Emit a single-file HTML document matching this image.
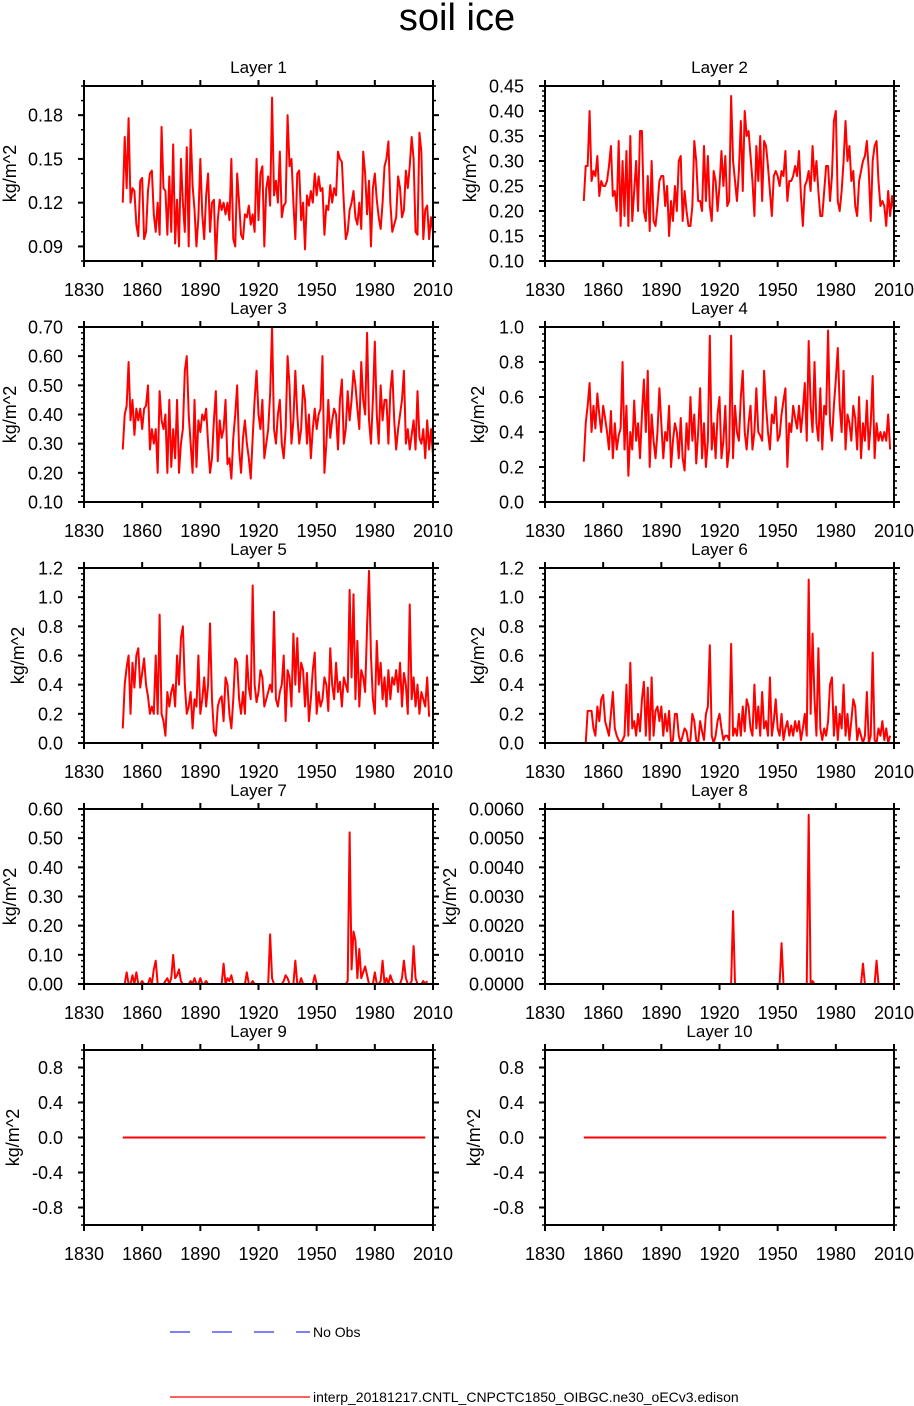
<!DOCTYPE html>
<html><head><meta charset="utf-8"><style>
html,body{margin:0;padding:0;background:#fff;}
svg{display:block;font-family:"Liberation Sans",Arial,sans-serif;}
</style></head><body>
<svg id="chart" width="914" height="1406" viewBox="0 0 914 1406" xmlns="http://www.w3.org/2000/svg">
<text x="457" y="30" font-size="38" text-anchor="middle">soil ice</text>
<g>
<line x1="170" y1="1332" x2="310" y2="1332" stroke="#0000ff" stroke-width="1" stroke-dasharray="20,22"/>
<text x="313" y="1337" font-size="14">No Obs</text>
<line x1="170" y1="1397" x2="310" y2="1397" stroke="#ff0000" stroke-width="1.2"/>
<text x="313" y="1402" font-size="14">interp_20181217.CNTL_CNPCTC1850_OIBGC.ne30_oECv3.edison</text>
</g>
</svg>
<script>
const startYear = 1850;
const xTicks = [1830,1860,1890,1920,1950,1980,2010];
const layer1 = [.120,.165,.130,.178,.120,.130,.128,.105,.097,.135,.137,.095,.100,.128,.140,.142,.112,.100,.120,.098,.172,.130,.128,.098,.138,.100,.160,.092,.122,.090,.150,.120,.100,.158,.090,.170,.132,.115,.090,.110,.150,.112,.095,.125,.140,.100,.120,.122,.080,.108,.122,.115,.120,.112,.120,.108,.150,.095,.090,.140,.120,.098,.095,.112,.110,.118,.105,.112,.100,.150,.108,.140,.145,.090,.130,.138,.118,.192,.125,.135,.120,.155,.110,.118,.120,.180,.145,.150,.120,.095,.140,.142,.108,.120,.088,.125,.118,.128,.120,.140,.125,.138,.128,.130,.098,.118,.115,.132,.120,.130,.125,.155,.150,.148,.120,.095,.100,.115,.120,.128,.110,.105,.120,.102,.155,.140,.112,.135,.090,.130,.140,.122,.110,.102,.120,.145,.150,.162,.120,.100,.105,.110,.138,.130,.110,.115,.142,.130,.145,.165,.150,.100,.098,.168,.155,.095,.115,.118,.095,.110,.100];
const layer2 = [.22,.29,.29,.40,.26,.28,.27,.31,.23,.26,.25,.25,.26,.29,.33,.23,.24,.20,.34,.17,.30,.19,.32,.17,.35,.18,.24,.30,.20,.36,.36,.20,.18,.27,.16,.30,.18,.17,.21,.26,.27,.27,.21,.25,.15,.22,.18,.25,.20,.30,.31,.18,.24,.20,.17,.17,.21,.34,.30,.22,.22,.20,.33,.22,.31,.21,.18,.28,.26,.20,.25,.32,.25,.31,.21,.22,.43,.30,.26,.22,.28,.38,.24,.40,.35,.36,.31,.26,.19,.33,.26,.35,.22,.34,.33,.29,.24,.19,.27,.28,.27,.25,.28,.27,.32,.22,.26,.26,.27,.29,.27,.32,.23,.17,.25,.26,.28,.24,.33,.26,.30,.24,.19,.19,.24,.29,.29,.22,.27,.38,.40,.22,.20,.24,.30,.38,.30,.33,.26,.28,.21,.19,.26,.28,.30,.31,.34,.28,.18,.30,.33,.34,.26,.21,.22,.21,.17,.24,.19,.23,.20];
const layer3 = [.28,.40,.43,.58,.38,.45,.33,.42,.38,.42,.35,.42,.43,.50,.28,.35,.30,.35,.20,.48,.38,.35,.40,.20,.45,.22,.35,.25,.45,.20,.30,.35,.55,.60,.40,.30,.20,.45,.22,.38,.34,.40,.38,.42,.30,.20,.25,.38,.48,.24,.38,.32,.35,.45,.23,.25,.18,.32,.40,.50,.28,.20,.32,.38,.30,.25,.18,.32,.45,.55,.40,.35,.45,.25,.30,.35,.47,.70,.35,.30,.40,.45,.30,.25,.35,.60,.50,.30,.38,.55,.40,.30,.35,.50,.45,.30,.40,.25,.35,.42,.35,.40,.42,.60,.20,.30,.45,.32,.38,.42,.40,.28,.45,.52,.30,.35,.48,.38,.45,.55,.50,.42,.35,.58,.45,.40,.68,.38,.30,.45,.65,.40,.30,.50,.38,.45,.45,.30,.48,.55,.38,.28,.35,.40,.45,.55,.30,.35,.28,.33,.38,.28,.48,.32,.30,.35,.25,.38,.28,.35,.26];
const layer4 = [.23,.45,.55,.68,.40,.55,.42,.62,.50,.40,.55,.48,.40,.30,.52,.25,.45,.30,.38,.42,.80,.30,.55,.15,.40,.30,.58,.35,.45,.25,.50,.70,.40,.75,.20,.50,.35,.25,.40,.65,.45,.25,.40,.35,.55,.20,.35,.45,.40,.25,.48,.25,.18,.45,.30,.60,.35,.50,.22,.40,.65,.25,.45,.20,.35,.95,.30,.45,.25,.50,.60,.25,.35,.55,.20,.30,.95,.25,.55,.40,.35,.60,.75,.40,.30,.45,.55,.30,.40,.65,.40,.38,.35,.75,.55,.40,.30,.50,.45,.60,.35,.38,.50,.58,.65,.20,.45,.40,.55,.48,.42,.55,.40,.52,.68,.35,.92,.55,.40,.80,.45,.35,.65,.30,.55,.50,.98,.45,.35,.55,.70,.88,.55,.40,.75,.30,.50,.45,.35,.55,.48,.30,.60,.25,.45,.35,.58,.30,.45,.72,.25,.45,.35,.40,.35,.40,.35,.50,.30];
const layer5 = [.10,.40,.52,.60,.20,.55,.38,.60,.65,.38,.48,.58,.40,.32,.20,.25,.20,.60,.20,.88,.20,.15,.05,.35,.25,.35,.40,.25,.60,.40,.72,.80,.40,.20,.25,.35,.10,.30,.25,.60,.20,.30,.45,.25,.40,.82,.30,.08,.05,.25,.30,.32,.15,.45,.40,.20,.10,.30,.58,.55,.30,.20,.35,.20,.60,.38,.30,1.08,.40,.28,.35,.50,.45,.25,.30,.35,.40,.35,.90,.30,.25,.35,.40,.60,.15,.50,.45,.25,.75,.40,.72,.35,.55,.50,.25,.48,.15,.30,.50,.62,.20,.35,.25,.30,.45,.40,.22,.65,.40,.30,.55,.35,.42,.25,.45,.40,.35,1.05,.45,1.02,.30,.70,.25,.50,.45,.35,.80,1.18,.60,.30,.20,.70,.40,.55,.30,.45,.25,.50,.30,.45,.40,.50,.35,.55,.25,.48,.40,.20,.95,.30,.45,.25,.40,.20,.35,.30,.25,.45,.18];
const layer6 = [0,0,.22,.22,.22,.10,.05,.25,.15,.30,.33,.15,.10,.05,.20,.35,.10,.05,.02,0,.02,.05,.40,.05,.55,.10,.15,.05,.20,.08,.30,.42,.05,.38,.02,.45,.05,.22,.25,.15,.25,.05,.20,.08,.22,0,.02,.20,.20,.05,0,.05,.10,.08,0,.02,.20,.15,.02,0,.15,.08,.02,.20,.25,.67,.05,0,.05,.15,.20,.10,.02,.05,.05,.02,.68,.05,.10,.05,.20,.05,.25,.08,.30,.25,.10,.05,.40,.10,.25,.05,.35,.10,.15,.05,.45,.05,.15,.30,.10,.05,.20,.02,.10,.15,.05,.12,.05,.15,.08,.15,.02,.10,.20,.05,1.12,.20,.75,.30,.05,.65,.10,.02,.10,.05,.15,.40,.45,.05,.25,.02,.20,.10,.40,.05,.20,.02,.15,.30,.25,.02,.10,.05,0,.05,.35,0,.05,.62,.02,0,.10,.05,.15,.02,.10,0,.05];
const layer7 = [0,0,.04,0,0,.03,0,.04,0,0,.01,0,0,0,.02,0,.05,.08,0,0,0,0,.01,.02,0,.02,.10,.02,.03,.05,.01,0,0,0,0,.01,0,.02,0,0,.02,0,0,.01,0,0,0,0,0,0,0,0,.07,0,.02,.01,.03,0,0,0,0,0,0,0,.04,0,0,.01,0,0,0,0,0,0,0,0,.17,.02,0,0,0,0,0,.01,.03,.02,0,0,0,.08,0,0,.02,0,0,0,0,0,0,.03,0,0,0,0,0,0,0,0,0,0,0,0,0,0,0,0,.01,.52,.05,.18,.15,.02,.12,.02,.04,.06,.03,0,0,0,.04,0,0,.01,.08,0,.02,0,.03,.01,0,0,0,0,.02,.08,.02,0,0,.01,.13,.02,0,0,0,.01,0,.01];
const layer8 = [0,0,0,0,0,0,0,0,0,0,0,0,0,0,0,0,0,0,0,0,0,0,0,0,0,0,0,0,0,0,0,0,0,0,0,0,0,0,0,0,0,0,0,0,0,0,0,0,0,0,0,0,0,0,0,0,0,0,0,0,0,0,0,0,0,0,0,0,0,0,0,0,0,0,0,0,0,.0025,0,0,0,0,0,0,0,0,0,0,0,0,0,0,0,0,0,0,0,0,0,0,0,0,.0014,0,0,0,0,0,0,0,0,0,0,0,0,0,.0058,0,.0001,0,0,0,0,0,0,0,0,0,0,0,0,0,0,0,0,0,0,0,0,0,0,0,0,0,.0007,0,0,0,0,0,0,.0008,0,0,0,0,0,0,0,0,0,0];
const layer9 = [0,0,0,0,0,0,0,0,0,0,0,0,0,0,0,0,0,0,0,0,0,0,0,0,0,0,0,0,0,0,0,0,0,0,0,0,0,0,0,0,0,0,0,0,0,0,0,0,0,0,0,0,0,0,0,0,0,0,0,0,0,0,0,0,0,0,0,0,0,0,0,0,0,0,0,0,0,0,0,0,0,0,0,0,0,0,0,0,0,0,0,0,0,0,0,0,0,0,0,0,0,0,0,0,0,0,0,0,0,0,0,0,0,0,0,0,0,0,0,0,0,0,0,0,0,0,0,0,0,0,0,0,0,0,0,0,0,0,0,0,0,0,0,0,0,0,0,0,0,0,0,0,0,0,0,0,0];
const layer10 = layer9.slice();

const series = [layer1,layer2,layer3,layer4,layer5,layer6,layer7,layer8,layer9,layer10];
const yMins = [0.08,0.10,0.10,0,0,0,0,0,-1,-1];
const yMaxs = [0.20,0.45,0.70,1.0,1.2,1.2,0.60,0.006,1,1];
const yMajor = [0.03,0.05,0.10,0.2,0.2,0.2,0.10,0.001,0.4,0.4];
const yMinor = [0.01,0.01,0.02,0.04,0.04,0.04,0.02,0.0002,0.1,0.1];
const yFirst = [0.09,0.10,0.10,0,0,0,0,0,-0.8,-0.8];
const yDec = [2,2,2,1,1,1,2,4,1,1];
const titleX = [1,461,1,469,9,469,1,441,4,465];

const NS='http://www.w3.org/2000/svg';
const svg=document.getElementById('chart');
function mk(tag,attrs,parent){const e=document.createElementNS(NS,tag);for(const k in attrs)e.setAttribute(k,attrs[k]);parent.appendChild(e);return e;}

const rowTops=[86,327,568,809,1050];
const H=175, W=349;
for(let p=0;p<10;p++){
  const x0 = p%2===0 ? 84 : 545;
  const y0 = rowTops[Math.floor(p/2)];
  const g=mk('g',{},svg);
  
  
  const xs=yr=>x0+(yr-1830)/180*W;
  const ys=v=>y0+H-(v-yMins[p])/(yMaxs[p]-yMins[p])*H;
  for(const t of xTicks){
    const X=xs(t);
    const tk=mk('line',{x1:X,y1:y0+H,x2:X,y2:y0+H+6,stroke:'#000','stroke-width':2},g);
    
    
    mk('line',{x1:X,y1:y0,x2:X,y2:y0-6,stroke:'#000','stroke-width':2},g);
    const lb=mk('text',{x:X,y:y0+H+35,'font-size':18,'text-anchor':'middle'},g);
    lb.textContent=t;
    
    
  }
  const nMinor=Math.round((yMaxs[p]-yMins[p])/yMinor[p]);
  for(let i=0;i<=nMinor;i++){
    const v=yMins[p]+i*yMinor[p];
    const Y=ys(v);
    mk('line',{x1:x0,y1:Y,x2:x0-3,y2:Y,stroke:'#000','stroke-width':1.5},g);
    mk('line',{x1:x0+W,y1:Y,x2:x0+W+3,y2:Y,stroke:'#000','stroke-width':1.5},g);
  }
  for(let v=yFirst[p];v<=yMaxs[p]+1e-9;v+=yMajor[p]){
    const Y=ys(v);
    mk('line',{x1:x0,y1:Y,x2:x0-6,y2:Y,stroke:'#000','stroke-width':2},g);
    mk('line',{x1:x0+W,y1:Y,x2:x0+W+6,y2:Y,stroke:'#000','stroke-width':2},g);
    const lb=mk('text',{x:x0-21,y:Y+6.5,'font-size':18,'text-anchor':'end'},g);
    lb.textContent=(Math.abs(v)<1e-12?0:v).toFixed(yDec[p]);
    
    
  }
  const s=series[p];
  const pts=s.map((v,i)=>xs(startYear+i).toFixed(2)+','+ys(v).toFixed(2)).join(' ');
  const line=mk('polyline',{points:pts,fill:'none',stroke:'#ff0000','stroke-width':2,'stroke-linejoin':'round'},g);
  
  
  const fr=mk('rect',{x:x0,y:y0,width:W,height:H,fill:'none',stroke:'#000','stroke-width':2},g);
  
  
  const tt=mk('text',{x:x0+W/2,y:y0-13,'font-size':17,'text-anchor':'middle'},g);
  tt.textContent='Layer '+(p+1);
  
  
  const cy=y0+H/2;
  const yt=mk('text',{x:titleX[p]+15,y:cy,'font-size':18,'text-anchor':'middle',transform:'rotate(-90 '+(titleX[p]+15)+' '+cy+')'},g);
  yt.textContent='kg/m^2';
  
  
}
</script>
</body></html>
